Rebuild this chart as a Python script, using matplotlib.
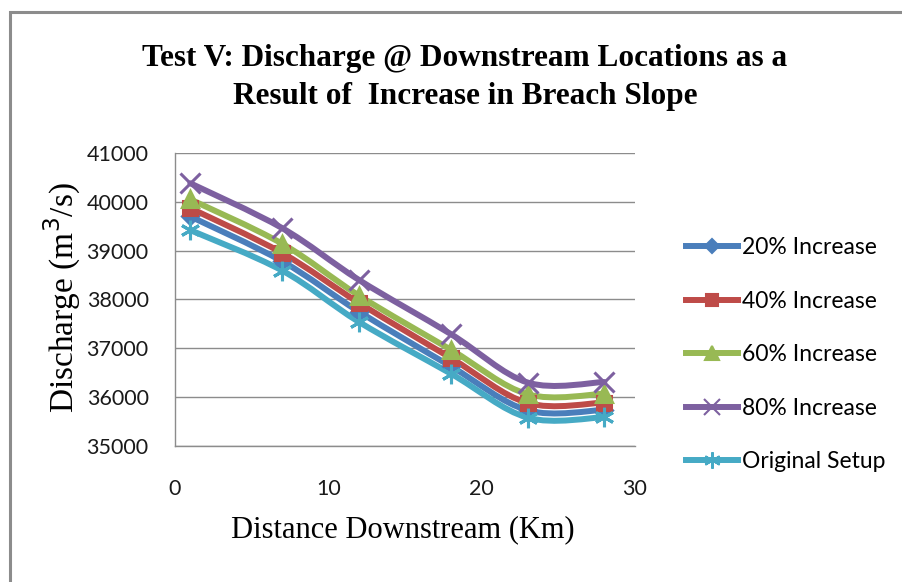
import numpy as np
import matplotlib
matplotlib.use("Agg")
import matplotlib.pyplot as plt
from matplotlib.path import Path
from matplotlib.patches import PathPatch, Rectangle
from matplotlib.lines import Line2D

# distance downstream (km) and discharge (m3/s) for each breach-slope case
distance_km = [1, 7, 12, 18, 23, 28]
increase_20 = [39700, 38780, 37750, 36630, 35730, 35740]
increase_40 = [39870, 38950, 37930, 36800, 35880, 35890]
increase_60 = [40050, 39140, 38080, 36970, 36060, 36070]
increase_80 = [40380, 39460, 38400, 37290, 36300, 36310]
original_setup = [39420, 38590, 37540, 36480, 35580, 35590]

series_labels = ["20% Increase", "40% Increase", "60% Increase",
                 "80% Increase", "Original Setup"]
series_values = [increase_20, increase_40, increase_60,
                 increase_80, original_setup]

colors = ["#4a7ebb", "#be4b48", "#98b954", "#7d60a0", "#46aac5"]
markers = ["D", "s", "^", "x", (6, 2, 0)]
marker_sizes = [8, 10, 12, 14, 14]

y_ticks = [35000, 36000, 37000, 38000, 39000, 40000, 41000]
x_ticks = [0, 10, 20, 30]

sans = ["Lato", "DejaVu Sans"]
serif = ["Liberation Serif", "DejaVu Serif"]


def smooth_path(xs, ys):
    """Catmull-Rom style cubic Bezier through the points (smoothed line)."""
    pts = np.column_stack([xs, ys]).astype(float)
    padded = np.vstack([pts[0], pts, pts[-1]])
    verts = [tuple(pts[0])]
    codes = [Path.MOVETO]
    for i in range(len(pts) - 1):
        p0, p1, p2, p3 = padded[i], padded[i + 1], padded[i + 2], padded[i + 3]
        c1 = p1 + (p2 - p0) / 6.0
        c2 = p2 - (p3 - p1) / 6.0
        verts += [tuple(c1), tuple(c2), tuple(p2)]
        codes += [Path.CURVE4] * 3
    return Path(verts, codes)


fig = plt.figure(figsize=(9.02, 5.82), dpi=100)
fig.patch.set_facecolor("white")

# outer chart border (top and left edges visible)
fig.patches.append(Rectangle((9.5 / 902, -0.1), 1.2, 1.1 - 11.5 / 582,
                             transform=fig.transFigure, fill=False,
                             edgecolor="#8c8c8c", linewidth=2.2))

ax = fig.add_axes([175 / 902, 1 - 446 / 582, 460 / 902, 293 / 582])

for vals, col, mk, ms in zip(series_values, colors, markers, marker_sizes):
    ax.add_patch(PathPatch(smooth_path(distance_km, vals), fill=False,
                           edgecolor=col, linewidth=4.3, capstyle="round",
                           joinstyle="round", zorder=3))
    ax.plot(distance_km, vals, linestyle="none", marker=mk, markersize=ms,
            color=col, markeredgecolor=col, markeredgewidth=2.2, zorder=4)

ax.set_xlim(0, 30)
ax.set_ylim(35000, 41000)
ax.set_xticks(x_ticks)
ax.set_yticks(y_ticks)
ax.tick_params(length=0, labelsize=15.5, colors="#1a1a1a")
ax.tick_params(axis="x", pad=24)
ax.tick_params(axis="y", pad=19)
for lbl in ax.get_xticklabels() + ax.get_yticklabels():
    lbl.set_family(sans)
ax.grid(axis="y", color="#8c8c8c", linewidth=1.0)
ax.set_axisbelow(True)
for side in ["top", "right"]:
    ax.spines[side].set_visible(False)
for side in ["left", "bottom"]:
    ax.spines[side].set_color("#8c8c8c")
    ax.spines[side].set_linewidth(1.0)

fig.text(465 / 902, 1 - 66 / 582,
         "Test V: Discharge @ Downstream Locations as a",
         ha="center", va="baseline", fontsize=22.5, fontweight="bold",
         family=serif)
fig.text(465 / 902, 1 - 104 / 582,
         "Result of  Increase in Breach Slope",
         ha="center", va="baseline", fontsize=22.5, fontweight="bold",
         family=serif)

fig.text(62 / 902, 1 - 298 / 582, "Discharge (m$^3$/s)", rotation=90,
         ha="center", va="center", fontsize=24, family=serif)
fig.text(403 / 902, 1 - 530 / 582, "Distance Downstream (Km)",
         ha="center", va="center", fontsize=22, family=serif)

handles = [Line2D([], [], color=c, marker=m, markersize=ms * 0.85,
                  linewidth=4.3, markeredgecolor=c, markeredgewidth=1.5)
           for c, m, ms in zip(colors, markers, marker_sizes)]
leg = fig.legend(handles, series_labels, loc="upper left",
                 bbox_to_anchor=(686 / 902, 1 - 237 / 582), frameon=False,
                 prop={"family": sans, "size": 16.5}, handlelength=2.25,
                 handletextpad=0.2, labelspacing=1.42, borderpad=0,
                 borderaxespad=0)

fig.savefig("out.png", dpi=100, facecolor="white")
